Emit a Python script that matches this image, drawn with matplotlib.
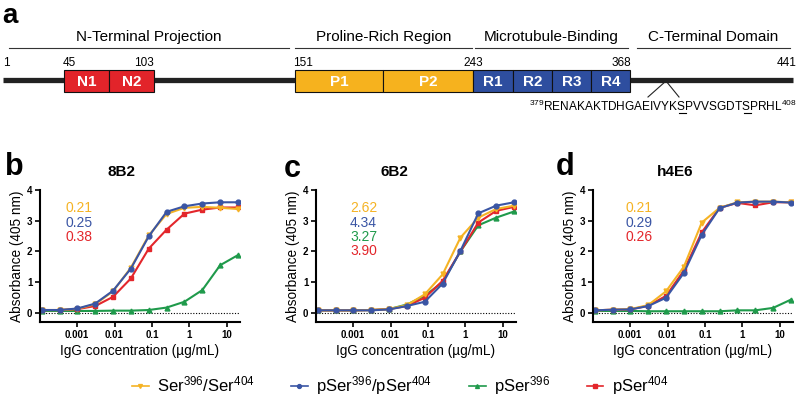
import numpy as np
import matplotlib.pyplot as plt
from matplotlib.patches import Rectangle

plt.rcParams['font.family'] = ['Liberation Sans', 'DejaVu Sans']
plt.rcParams['mathtext.fontset'] = 'custom'
plt.rcParams['mathtext.rm'] = 'Liberation Sans'
plt.rcParams['mathtext.it'] = 'Liberation Sans:italic'
plt.rcParams['mathtext.bf'] = 'Liberation Sans:bold'

# ---- data ----
conc = [0.000113, 0.000339, 0.00102, 0.00305, 0.00914, 0.0274,
        0.0823, 0.247, 0.741, 2.22, 6.67, 20.0]  # ug/mL

series_names = [r'Ser$^{396}$/Ser$^{404}$', r'pSer$^{396}$/pSer$^{404}$',
                r'pSer$^{396}$', r'pSer$^{404}$']

# 8B2
b_ser = [0.09, 0.09, 0.13, 0.28, 0.70, 1.47, 2.52, 3.22, 3.42, 3.45, 3.42, 3.38]
b_pser = [0.09, 0.09, 0.14, 0.30, 0.72, 1.44, 2.49, 3.29, 3.47, 3.56, 3.60, 3.60]
b_p396 = [0.06, 0.06, 0.06, 0.06, 0.07, 0.07, 0.09, 0.17, 0.36, 0.74, 1.55, 1.88]
b_p404 = [0.09, 0.09, 0.12, 0.22, 0.52, 1.12, 2.09, 2.71, 3.23, 3.36, 3.43, 3.43]
# 6B2
c_ser = [0.08, 0.08, 0.08, 0.09, 0.12, 0.25, 0.60, 1.25, 2.45, 3.10, 3.38, 3.49]
c_pser = [0.08, 0.08, 0.08, 0.08, 0.11, 0.22, 0.36, 0.95, 2.02, 3.24, 3.49, 3.60]
c_p396 = [0.08, 0.08, 0.08, 0.09, 0.12, 0.27, 0.55, 1.00, 2.00, 2.85, 3.10, 3.30]
c_p404 = [0.08, 0.08, 0.08, 0.09, 0.12, 0.22, 0.49, 1.04, 2.00, 2.94, 3.32, 3.45]
# h4E6
d_ser = [0.08, 0.10, 0.12, 0.25, 0.70, 1.50, 2.94, 3.42, 3.60, 3.62, 3.62, 3.60]
d_pser = [0.08, 0.10, 0.11, 0.22, 0.49, 1.30, 2.54, 3.41, 3.59, 3.62, 3.62, 3.59]
d_p396 = [0.06, 0.06, 0.06, 0.05, 0.05, 0.05, 0.05, 0.05, 0.08, 0.08, 0.16, 0.43]
d_p404 = [0.08, 0.10, 0.11, 0.23, 0.55, 1.38, 2.62, 3.42, 3.58, 3.50, 3.60, 3.60]

antibodies = ['8B2', '6B2', 'h4E6']
panel_letters = ['b', 'c', 'd']
ec50_labels = [['0.21', '0.25', '0.38'],
               ['2.62', '4.34', '3.27', '3.90'],
               ['0.21', '0.29', '0.26']]
ec50_series = [[0, 1, 3], [0, 1, 2, 3], [0, 1, 3]]

# tau schematic
domain_titles = ['N-Terminal Projection', 'Proline-Rich Region',
                 'Microtubule-Binding', 'C-Terminal Domain']
box_labels = ['N1', 'N2', 'P1', 'P2', 'R1', 'R2', 'R3', 'R4']
residue_marks = ['1', '45', '103', '151', '243', '368', '441']
seq_start, seq_end = '379', '408'
seq_parts = ['RENAKAKTDHGAEIVYK', 'S', 'PVVSGDT', 'S', 'PRHL']  # S396, S404 underlined

# ---- styling ----
colors = ['#F5B324', '#3A55A4', '#1F9A4B', '#E3262B']
markers = ['v', 'o', '^', 's']
draw_order = [2, 3, 0, 1]
box_colors = ['#E2242A'] * 2 + ['#F6B21E'] * 2 + ['#2E4E9F'] * 4

fig = plt.figure(figsize=(8.0, 4.03), dpi=100)

# overlay in pixel coordinates for panel a and panel letters
ax0 = fig.add_axes([0, 0, 1, 1])
ax0.set_xlim(0, 800)
ax0.set_ylim(403, 0)
ax0.axis('off')

ax0.text(2, 23, 'a', fontsize=20, fontweight='bold', va='baseline', ha='left')

head_spans = [(9, 289), (295, 472), (475, 628), (637, 790)]
for name, (x0, x1) in zip(domain_titles, head_spans):
    ax0.plot([x0, x1], [48, 48], color='#333333', lw=0.8)
    ax0.text((x0 + x1) / 2, 37, name, fontsize=11, ha='center', va='center')

ax0.plot([3, 793], [80, 80], color='#222222', lw=3.8, solid_capstyle='butt')
box_spans = [(64, 109), (109, 154), (295, 383), (383, 473),
             (473, 513), (513, 552), (552, 591), (591, 630)]
for lab, (x0, x1), col in zip(box_labels, box_spans, box_colors):
    ax0.add_patch(Rectangle((x0, 70), x1 - x0, 22, facecolor=col,
                            edgecolor='#111111', lw=0.8, zorder=3))
    ax0.text((x0 + x1) / 2, 81.5, lab, color='white', fontsize=11,
             fontweight='bold', ha='center', va='center', zorder=4)

mark_pos = [(3, 'left'), (63, 'left'), (154, 'right'), (293, 'left'),
            (473, 'center'), (631, 'right'), (797, 'right')]
for lab, (x, ha) in zip(residue_marks, mark_pos):
    ax0.text(x, 63, lab, fontsize=8.5, ha=ha, va='center')

ax0.plot([648, 666, 679], [97, 81, 97], color='#222222', lw=0.8)

# sequence with underlined serines, measured piece by piece
renderer = fig.canvas.get_renderer()
prefix = '$^{%s}$' % seq_start
full = prefix + ''.join(seq_parts) + '$^{%s}$' % seq_end
t_full = ax0.text(797, 111, full, fontsize=8.6, ha='right', va='baseline')
left = t_full.get_window_extent(renderer).x0


def width_of(s):
    t = ax0.text(0, 0, s, fontsize=8.6)
    w = t.get_window_extent(renderer).width
    t.remove()
    return w


acc = prefix
for i, part in enumerate(seq_parts):
    if i in (1, 3):
        x_a = left + width_of(acc)
        x_b = left + width_of(acc + part)
        ax0.plot([x_a + 0.5, x_b - 0.5], [112.5, 112.5], color='black', lw=0.8)
    acc += part

# ---- binding curves ----
panel_data = [[b_ser, b_pser, b_p396, b_p404],
              [c_ser, c_pser, c_p396, c_p404],
              [d_ser, d_pser, d_p396, d_p404]]
lefts = [40, 316, 593]
letter_pos = [(5, 175), (284, 177), (556, 175)]
title_x = [122, 394, 675]
ec_x = [0.125, 0.17, 0.165]

handles = []
for k in range(3):
    ax = fig.add_axes([lefts[k] / 800, 1 - 322 / 403, 200 / 800, 132 / 403])
    for i in draw_order:
        ln, = ax.plot(conc, panel_data[k][i], color=colors[i], lw=1.5,
                      marker=markers[i], ms=3.5, mec=colors[i],
                      label=series_names[i])
        if k == 0:
            handles.append((i, ln))
    ax.set_xscale('log')
    ax.set_xlim(1.02e-4, 22.6)
    ax.set_ylim(-0.3, 4.0)
    ax.axhline(0, color='black', lw=0.8, ls=(0, (1, 1.5)), zorder=0)
    ax.set_xticks([0.001, 0.01, 0.1, 1, 10])
    ax.set_xticklabels(['0.001', '0.01', '0.1', '1', '10'])
    ax.set_yticks([0, 1, 2, 3, 4])
    ax.set_yticklabels(['0', '1', '2', '3', '4'])
    for lbl in ax.get_xticklabels() + ax.get_yticklabels():
        lbl.set_fontweight('bold')
        lbl.set_fontsize(7)
    for s in ['top', 'right']:
        ax.spines[s].set_visible(False)
    for s in ['left', 'bottom']:
        ax.spines[s].set_linewidth(1.5)
    ax.tick_params(which='major', length=3.5, width=1.2, pad=2)
    ax.tick_params(which='minor', length=2, width=1.0)
    ax.set_xlabel('IgG concentration (µg/mL)', fontsize=9.8, labelpad=3)
    ax.set_ylabel('Absorbance (405 nm)', fontsize=9.8, labelpad=2)
    ax.patch.set_alpha(0)

    for j, (txt, si) in enumerate(zip(ec50_labels[k], ec50_series[k])):
        ax.text(ec_x[k], 0.86 - j * 0.108, txt, color=colors[si], fontsize=10,
                transform=ax.transAxes, ha='left', va='center')

    ax0.text(letter_pos[k][0], letter_pos[k][1], panel_letters[k], fontsize=22,
             fontweight='bold', ha='left', va='baseline')
    ax0.text(title_x[k], 172, antibodies[k], fontsize=11, fontweight='bold',
             ha='center', va='center')

handles = [h for _, h in sorted(handles, key=lambda t: t[0])]
leg = fig.legend(handles=handles, labels=series_names, loc='center', ncol=4,
                 bbox_to_anchor=(0.5, 1 - 386 / 403), frameon=False,
                 fontsize=12, handlelength=1.0, columnspacing=2.2,
                 markerscale=0.8, handletextpad=0.5)
for line in leg.get_lines():
    line.set_linewidth(1.2)

fig.savefig('out.png', dpi=100)
